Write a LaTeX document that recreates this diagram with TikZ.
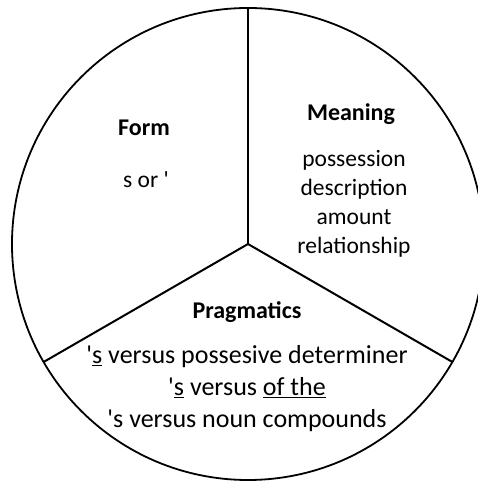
\documentclass[tikz,border=0pt]{standalone}
\usepackage{fontspec}
\setmainfont{Carlito}
\usetikzlibrary{positioning}

\begin{document}
\begin{tikzpicture}[
		x=1pt, y=1pt,
		% Wheel styles
		wheel/.style={circle, draw=black, line width=1.8pt, minimum size=472pt, inner sep=0pt, outer sep=0pt},
		spoke/.style={draw=black, line width=2pt},
		% Text styles
		heading/.style={font=\fontsize{24}{29}\selectfont\bfseries, align=center, inner sep=0pt},
		items/.style={font=\fontsize{23.5}{29}\selectfont, align=center, inner sep=0pt},
		bigitems/.style={font=\fontsize{26}{32}\selectfont, align=center, inner sep=0pt}
		]
		
		\useasboundingbox (-248,-237) rectangle (230,244);
		
		% --- WHEEL ---
		\node[wheel] (W) at (0,0) {};
		\draw[spoke] (W.center) -- (W.90);
		\draw[spoke] (W.center) -- (W.210);
		\draw[spoke] (W.center) -- (W.330);
		
		% --- FORM ---
		\node[heading] (form) at (-104,116) {Form};
		\node[items] (formtxt) at (-102,64) {s or \textquotesingle};
		
		% --- MEANING ---
		\node[heading] (meaning) at (103,130) {Meaning};
		\node[items] (meaningtxt) at (106,40) {possession\\description\\amount\\relationship};
		
		% --- PRAGMATICS ---
		\node[heading] (prag) at (-1,-68) {Pragmatics};
		\node[bigitems] (pragtxt) at (-1,-145) {\textquotesingle\underline{s} versus possesive determiner\\
			\textquotesingle\underline{s} versus \underline{of the}\\
			\textquotesingle s versus noun compounds};
		
	\end{tikzpicture}
\end{document}
